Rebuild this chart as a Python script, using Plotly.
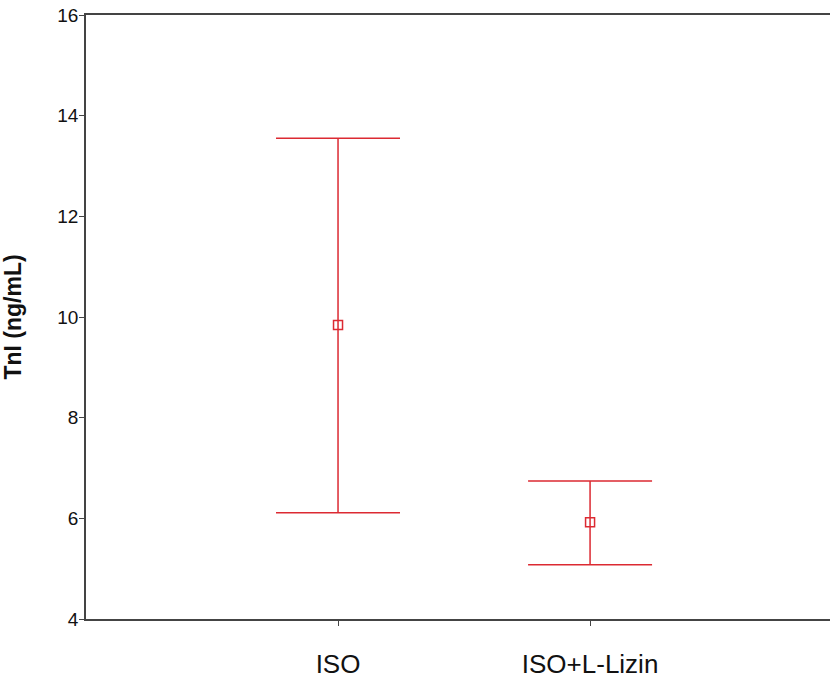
import plotly.graph_objects as go

categories = ["ISO", "ISO+L-Lizin"]
means = [9.84, 5.92]
upper = [13.55, 6.74]
lower = [6.11, 5.08]

xpos = [1, 2]
err_plus = [u - m for u, m in zip(upper, means)]
err_minus = [m - l for m, l in zip(means, lower)]

red = "#dc2a32"

fig = go.Figure()
fig.add_trace(go.Scatter(
    x=xpos, y=means, mode="markers",
    marker=dict(symbol="square-open", size=9, color=red, line=dict(width=1.5, color=red)),
    error_y=dict(type="data", symmetric=False, array=err_plus, arrayminus=err_minus,
                 color=red, thickness=1.5, width=62),
    showlegend=False,
))

fig.update_layout(
    width=830, height=679,
    margin=dict(l=86, r=0, t=15, b=60),
    plot_bgcolor="white", paper_bgcolor="white",
    font=dict(family="Liberation Sans, Arial, sans-serif", color="#111"),
)
fig.update_xaxes(
    range=[0, 2.952], tickvals=xpos, ticktext=categories,
    showline=True, linecolor="#444", linewidth=1.5, mirror=True,
    ticks="outside", ticklen=5, tickcolor="#444", tickwidth=1,
    tickfont=dict(size=26), ticklabelstandoff=16,
    showgrid=False, zeroline=False, automargin=False,
)
fig.update_yaxes(
    range=[4, 16], tickvals=[4, 6, 8, 10, 12, 14, 16],
    showline=True, linecolor="#444", linewidth=1.5,
    ticks="outside", ticklen=5, tickcolor="#444", tickwidth=1,
    tickfont=dict(size=19), ticklabelstandoff=-3, ticklabeloverflow="allow",
    showgrid=False, zeroline=False, automargin=False,
    title=dict(text="<b>TnI (ng/mL)</b>", font=dict(size=23), standoff=29),
)

fig.write_html("out.html", config={"displayModeBar": False},
               post_script="document.body.style.margin='0px';")
